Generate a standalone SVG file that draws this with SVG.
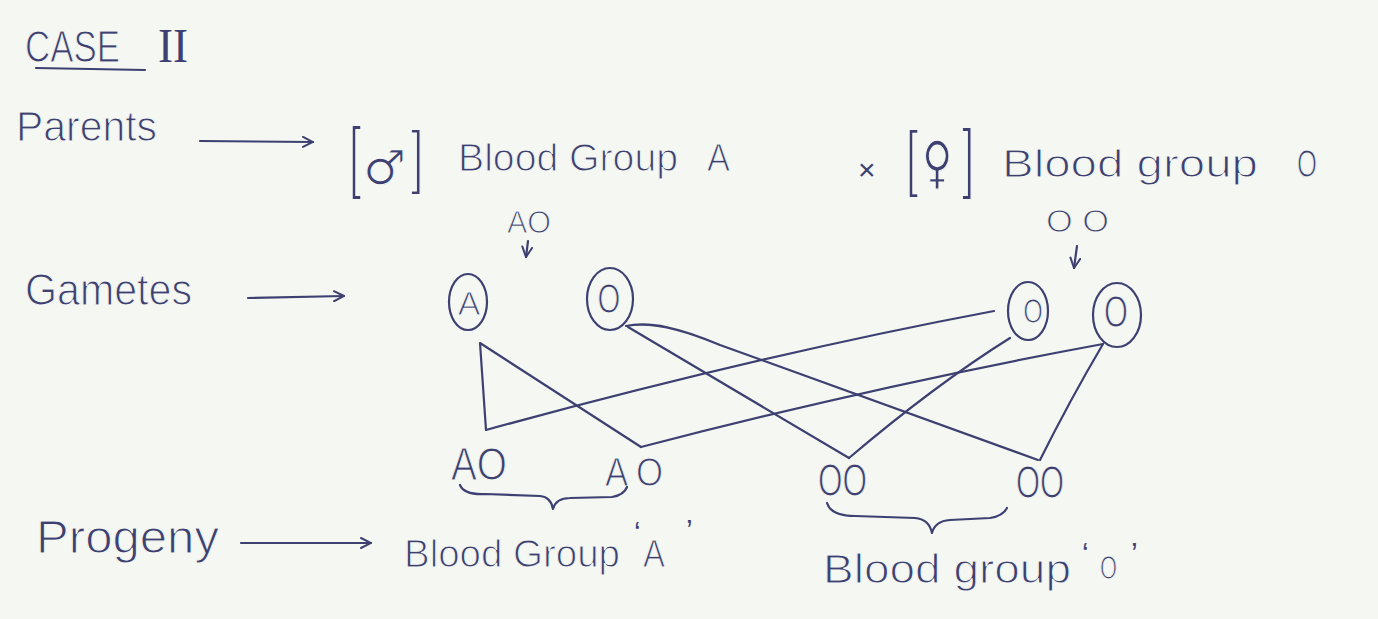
<svg xmlns="http://www.w3.org/2000/svg" width="1378" height="619" viewBox="0 0 1378 619">
<defs>
<style>
.t{font-family:"Liberation Sans","DejaVu Sans",sans-serif;fill:#3d4070;stroke:#f4f7f2;stroke-width:1.1;}
.s{font-family:"DejaVu Sans","Liberation Sans",sans-serif;fill:#3d4070;stroke:#f4f7f2;stroke-width:1.1;}
.r{font-family:"Liberation Serif",serif;fill:#3d4070;}
.q{stroke:none;}
.ln{fill:none;stroke:#3d4070;stroke-width:2.2;stroke-linecap:round;stroke-linejoin:round;}
.cir{fill:none;stroke:#3d4070;stroke-width:2.2;}
</style>
<marker id="ah" viewBox="0 0 12 12" refX="11" refY="6" markerWidth="12" markerHeight="12" markerUnits="userSpaceOnUse" orient="auto">
<path d="M1,1 L11,6 L1,11" fill="none" stroke="#3d4070" stroke-width="2" stroke-linecap="round"/>
</marker>
</defs>
<rect width="1378" height="619" fill="#f4f7f2"/>

<g id="title">
<text class="t" x="25" y="62" font-size="44" textLength="95" lengthAdjust="spacingAndGlyphs">CASE</text>
<text class="r" x="158" y="62" font-size="48" textLength="30" lengthAdjust="spacingAndGlyphs">II</text>
<path class="ln" d="M36 68 L145 70"/>
</g>

<g id="parents-label">
<text class="t" x="16" y="141" font-size="42" textLength="141" lengthAdjust="spacingAndGlyphs">Parents</text>
</g>

<g id="male-parent">
<text class="t" transform="translate(349,183) scale(1,1.8)" font-size="44">[</text>
<text class="s" x="363" y="184" font-size="48">♂</text>
<text class="t" transform="translate(411,180) scale(1,1.6)" font-size="44">]</text>
<text class="t" x="458" y="171" font-size="38"><tspan textLength="220" lengthAdjust="spacingAndGlyphs">Blood Group</tspan><tspan x="707" textLength="23" lengthAdjust="spacingAndGlyphs">A</tspan></text>
</g>

<g id="cross">
<text class="t q" x="858" y="180" font-size="30">×</text>
</g>

<g id="female-parent">
<text class="t" transform="translate(906,183) scale(1,1.7)" font-size="44">[</text>
<text class="s" transform="translate(922,182) scale(0.8,1.1)" font-size="52">♀</text>
<text class="t" transform="translate(962,184) scale(1,1.75)" font-size="44">]</text>
<text class="t" x="1002" y="177" font-size="38"><tspan textLength="256" lengthAdjust="spacingAndGlyphs">Blood group</tspan><tspan x="1297" textLength="20" lengthAdjust="spacingAndGlyphs">O</tspan></text>
</g>

<g id="male-genotype">
<text class="t" x="507" y="233" font-size="32" textLength="44" lengthAdjust="spacingAndGlyphs">AO</text>
</g>
<g id="female-genotype">
<text class="t" x="1046" y="232" font-size="32" textLength="63" lengthAdjust="spacingAndGlyphs">O O</text>
</g>

<g id="gametes-label">
<text class="t" x="25" y="305" font-size="44" textLength="167" lengthAdjust="spacingAndGlyphs">Gametes</text>
</g>

<g id="gamete-male-A">
<ellipse class="cir" cx="468" cy="302" rx="19" ry="28"/>
<text class="t" x="469" y="315" font-size="34" text-anchor="middle">A</text>
</g>
<g id="gamete-male-O">
<ellipse class="cir" cx="610" cy="299" rx="23" ry="31"/>
<text class="t" transform="translate(609,313) scale(0.7,1)" font-size="42" text-anchor="middle">O</text>
</g>
<g id="gamete-female-O1">
<ellipse class="cir" cx="1028" cy="311" rx="20" ry="29"/>
<text class="t" transform="translate(1033,323) scale(0.7,1)" font-size="36" text-anchor="middle">O</text>
</g>
<g id="gamete-female-O2">
<ellipse class="cir" cx="1117" cy="315" rx="24" ry="32"/>
<text class="t" transform="translate(1116,327) scale(0.7,1)" font-size="44" text-anchor="middle">O</text>
</g>

<g id="progeny-AO-1">
<text class="t" x="451" y="480" font-size="46" textLength="56" lengthAdjust="spacingAndGlyphs">AO</text>
</g>
<g id="progeny-AO-2">
<text class="t" x="605" y="486" font-size="40" textLength="58" lengthAdjust="spacingAndGlyphs">A O</text>
</g>
<g id="progeny-OO-1">
<text class="t" x="818" y="496" font-size="46" textLength="49" lengthAdjust="spacingAndGlyphs">OO</text>
</g>
<g id="progeny-OO-2">
<text class="t" x="1016" y="498" font-size="46" textLength="48" lengthAdjust="spacingAndGlyphs">OO</text>
</g>

<g id="progeny-label">
<text class="t" x="36" y="553" font-size="46" textLength="183" lengthAdjust="spacingAndGlyphs">Progeny</text>
</g>

<g id="result-A">
<path class="ln" d="M460 485 Q464 495 485 494 L540 496 Q551 497 553 509 Q556 498 570 498 L612 497 Q624 495 627 487"/>
<text class="t" x="404" y="567" font-size="38"><tspan textLength="216" lengthAdjust="spacingAndGlyphs">Blood Group</tspan><tspan class="q" x="634" y="542" font-size="30">‘</tspan><tspan x="643" y="567" textLength="22" lengthAdjust="spacingAndGlyphs">A</tspan><tspan class="q" x="686" y="540" font-size="30">’</tspan></text>
</g>

<g id="result-O">
<path class="ln" d="M827 503 Q831 516 855 516 L915 518 Q929 519 932 533 Q935 521 950 520 L990 518 Q1003 516 1007 508"/>
<text class="t" x="823" y="583" font-size="40"><tspan textLength="248" lengthAdjust="spacingAndGlyphs">Blood group</tspan><tspan class="q" x="1082" y="563" font-size="30">‘</tspan><tspan x="1100" y="579" font-size="34" textLength="17" lengthAdjust="spacingAndGlyphs">O</tspan><tspan class="q" x="1131" y="563" font-size="30">’</tspan></text>
</g>

<g id="connectors">
<path class="ln" d="M200 141 L313 142" marker-end="url(#ah)"/>
<path class="ln" d="M248 298 L344 296" marker-end="url(#ah)"/>
<path class="ln" d="M241 543 L371 543" marker-end="url(#ah)"/>
<path class="ln" d="M528 241 L526 257" marker-end="url(#ah)"/>
<path class="ln" d="M1077 246 L1074 268" marker-end="url(#ah)"/>
<path class="ln" d="M486 430 L480 343 L641 447"/>
<path class="ln" d="M486 430 Q760 355 994 311"/>
<path class="ln" d="M641 447 Q880 385 1103 344"/>
<path class="ln" d="M628 327 L849 458"/>
<path class="ln" d="M626 326 C650 321 680 328 720 345 L1038 460"/>
<path class="ln" d="M1010 338 Q935 385 849 458"/>
<path class="ln" d="M1103 344 Q1070 400 1040 460"/>
</g>
</svg>
